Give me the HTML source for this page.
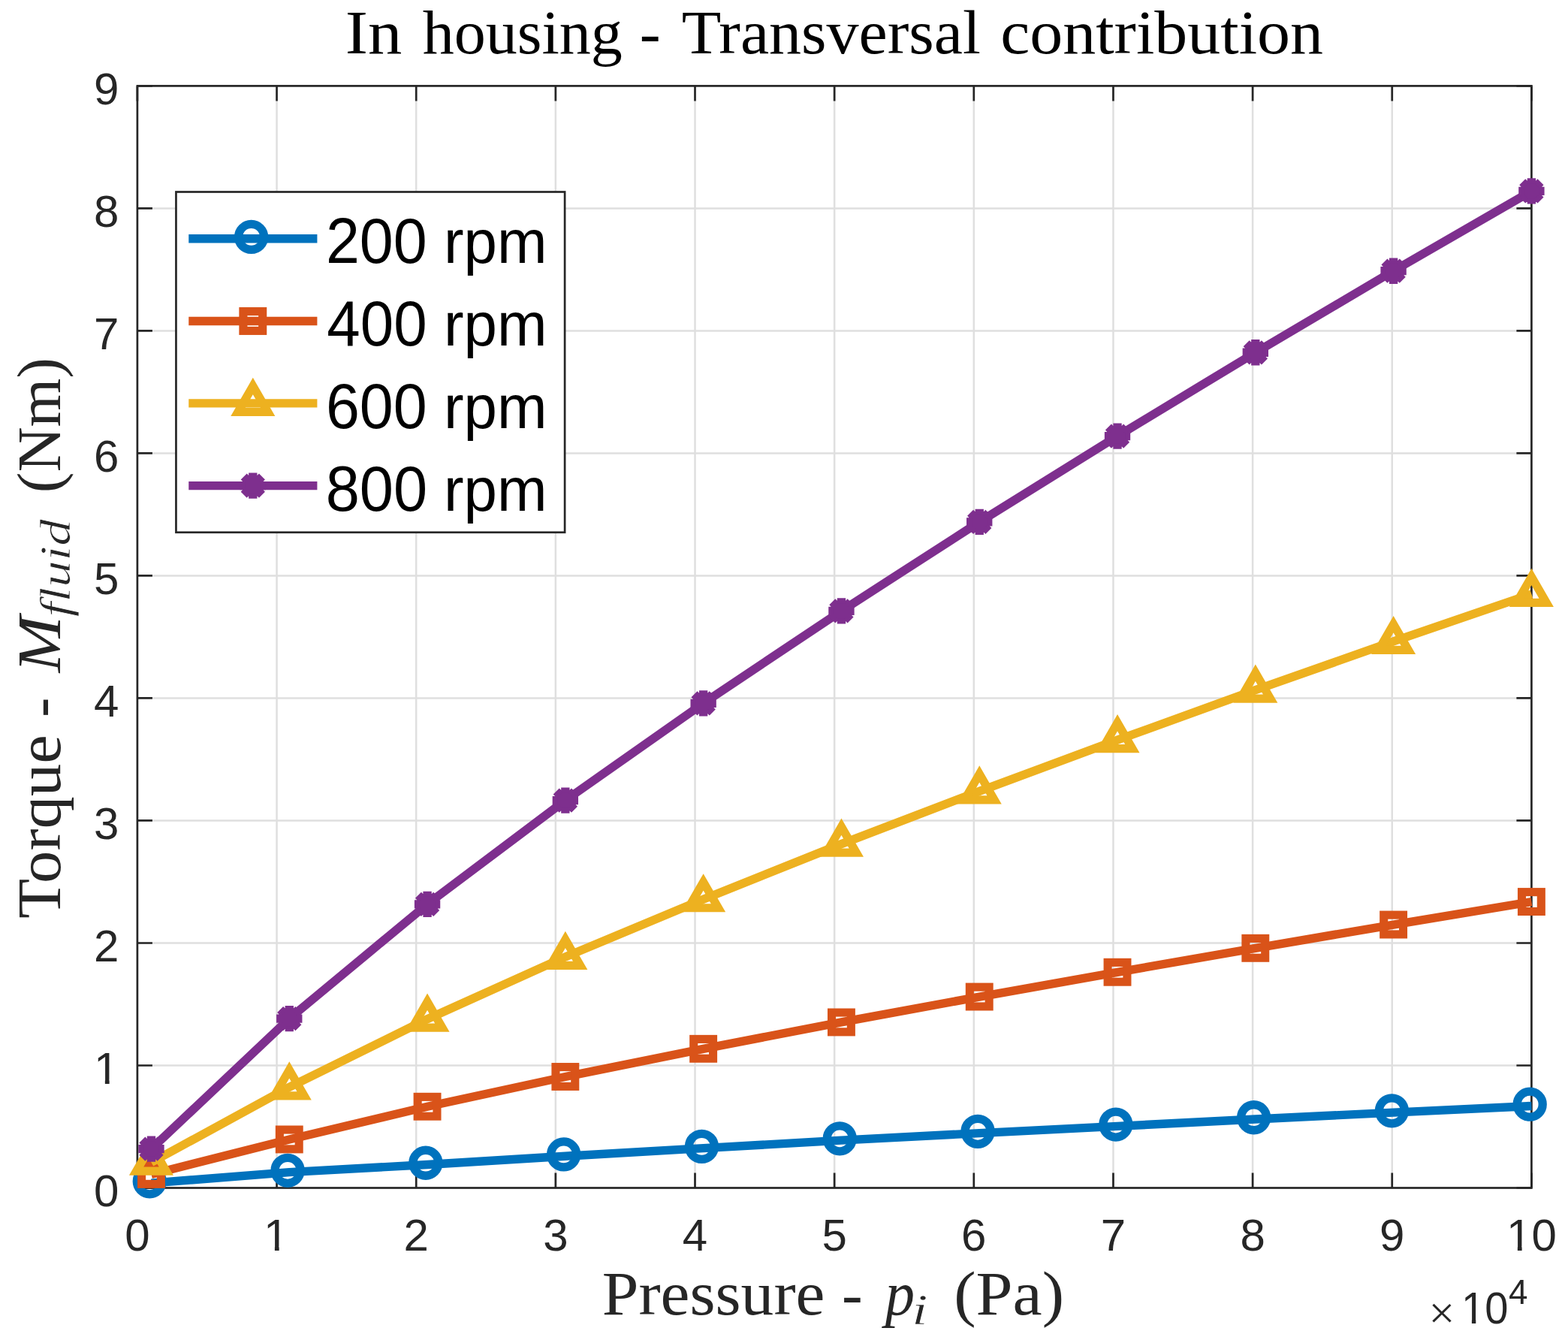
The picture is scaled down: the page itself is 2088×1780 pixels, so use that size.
<!DOCTYPE html>
<html><head><meta charset="utf-8"><title>In housing - Transversal contribution</title>
<style>html,body{margin:0;padding:0;background:#fff}svg{display:block}</style>
</head><body>
<svg width="2088" height="1780" viewBox="0 0 2088 1780">
<rect width="2088" height="1780" fill="#ffffff"/>
<path d="M368.55 114.4V1581.5M554.2 114.4V1581.5M739.85 114.4V1581.5M925.5 114.4V1581.5M1111.15 114.4V1581.5M1296.8 114.4V1581.5M1482.45 114.4V1581.5M1668.1 114.4V1581.5M1853.75 114.4V1581.5M182.9 1418.49H2039.4M182.9 1255.48H2039.4M182.9 1092.47H2039.4M182.9 929.46H2039.4M182.9 766.44H2039.4M182.9 603.43H2039.4M182.9 440.42H2039.4M182.9 277.41H2039.4" stroke="#dfdfdf" stroke-width="2.5" fill="none"/>
<path d="M182.9 1581.5V1561.5M182.9 114.4V134.4M368.55 1581.5V1561.5M368.55 114.4V134.4M554.2 1581.5V1561.5M554.2 114.4V134.4M739.85 1581.5V1561.5M739.85 114.4V134.4M925.5 1581.5V1561.5M925.5 114.4V134.4M1111.15 1581.5V1561.5M1111.15 114.4V134.4M1296.8 1581.5V1561.5M1296.8 114.4V134.4M1482.45 1581.5V1561.5M1482.45 114.4V134.4M1668.1 1581.5V1561.5M1668.1 114.4V134.4M1853.75 1581.5V1561.5M1853.75 114.4V134.4M2039.4 1581.5V1561.5M2039.4 114.4V134.4M182.9 1581.5H202.9M2039.4 1581.5H2019.4M182.9 1418.49H202.9M2039.4 1418.49H2019.4M182.9 1255.48H202.9M2039.4 1255.48H2019.4M182.9 1092.47H202.9M2039.4 1092.47H2019.4M182.9 929.46H202.9M2039.4 929.46H2019.4M182.9 766.44H202.9M2039.4 766.44H2019.4M182.9 603.43H202.9M2039.4 603.43H2019.4M182.9 440.42H202.9M2039.4 440.42H2019.4M182.9 277.41H202.9M2039.4 277.41H2019.4M182.9 114.4H202.9M2039.4 114.4H2019.4" stroke="#262626" stroke-width="2.7" fill="none"/>
<rect x="182.9" y="114.4" width="1856.5" height="1467.1" fill="none" stroke="#262626" stroke-width="2.7" stroke-linejoin="miter"/>
<g font-family="Liberation Sans, Arial, sans-serif" font-size="60" fill="#262626">
<text x="182.9" y="1664.5" text-anchor="middle">0</text>
<text x="367.75" y="1664.5" text-anchor="middle" clip-path="url(#c1x)">1</text>
<text x="554.2" y="1664.5" text-anchor="middle">2</text>
<text x="739.85" y="1664.5" text-anchor="middle">3</text>
<text x="925.5" y="1664.5" text-anchor="middle">4</text>
<text x="1111.15" y="1664.5" text-anchor="middle">5</text>
<text x="1296.8" y="1664.5" text-anchor="middle">6</text>
<text x="1482.45" y="1664.5" text-anchor="middle">7</text>
<text x="1668.1" y="1664.5" text-anchor="middle">8</text>
<text x="1853.75" y="1664.5" text-anchor="middle">9</text>
<text x="2039.4" y="1664.5" text-anchor="middle" clip-path="url(#c10x)">10</text>
<text x="158.4" y="1605.8" text-anchor="end">0</text>
<text x="158.4" y="1442.79" text-anchor="end" clip-path="url(#c1y)">1</text>
<text x="158.4" y="1279.78" text-anchor="end">2</text>
<text x="158.4" y="1116.77" text-anchor="end">3</text>
<text x="158.4" y="953.76" text-anchor="end">4</text>
<text x="158.4" y="790.74" text-anchor="end">5</text>
<text x="158.4" y="627.73" text-anchor="end">6</text>
<text x="158.4" y="464.72" text-anchor="end">7</text>
<text x="158.4" y="301.71" text-anchor="end">8</text>
<text x="158.4" y="138.7" text-anchor="end">9</text>
</g>
<text x="1902.19" y="1767.5" font-family="Liberation Sans, Arial, sans-serif" font-size="59" font-style="normal" fill="#262626" textLength="35.4" lengthAdjust="spacingAndGlyphs" style="font-variant-ligatures:none" stroke="#ffffff" stroke-width="1.2">&#215;</text>
<text x="1946.05" y="1762" font-family="Liberation Sans, Arial, sans-serif" font-size="59" font-style="normal" fill="#262626" textLength="62.36" lengthAdjust="spacingAndGlyphs" style="font-variant-ligatures:none" clip-path="url(#c10m)">10</text>
<text x="2009" y="1736.1" font-family="Liberation Sans, Arial, sans-serif" font-size="46" font-style="normal" fill="#262626" textLength="25.48" lengthAdjust="spacingAndGlyphs" style="font-variant-ligatures:none">4</text>
<polyline points="201.47,1575.14 385.26,1560.63 569.05,1550.53 752.85,1539.2 936.64,1528.68 1120.43,1518.09 1304.23,1508.63 1488.02,1499.34 1671.81,1490.05 1855.61,1481.09 2039.4,1472.45" fill="none" stroke="#0072BD" stroke-width="11.4" stroke-linejoin="round" stroke-linecap="butt"/>
<circle cx="199.27" cy="1572.84" r="17" fill="none" stroke="#0072BD" stroke-width="11.3"/>
<circle cx="383.06" cy="1558.33" r="17" fill="none" stroke="#0072BD" stroke-width="11.3"/>
<circle cx="566.85" cy="1548.23" r="17" fill="none" stroke="#0072BD" stroke-width="11.3"/>
<circle cx="750.65" cy="1536.9" r="17" fill="none" stroke="#0072BD" stroke-width="11.3"/>
<circle cx="934.44" cy="1526.38" r="17" fill="none" stroke="#0072BD" stroke-width="11.3"/>
<circle cx="1118.23" cy="1515.79" r="17" fill="none" stroke="#0072BD" stroke-width="11.3"/>
<circle cx="1302.03" cy="1506.33" r="17" fill="none" stroke="#0072BD" stroke-width="11.3"/>
<circle cx="1485.82" cy="1497.04" r="17" fill="none" stroke="#0072BD" stroke-width="11.3"/>
<circle cx="1669.61" cy="1487.75" r="17" fill="none" stroke="#0072BD" stroke-width="11.3"/>
<circle cx="1853.41" cy="1478.79" r="17" fill="none" stroke="#0072BD" stroke-width="11.3"/>
<circle cx="2037.2" cy="1470.15" r="17" fill="none" stroke="#0072BD" stroke-width="11.3"/>
<polyline points="201.47,1563.45 385.26,1516.95 569.05,1473.26 752.85,1433.49 936.64,1396.32 1120.43,1360.95 1304.23,1327.04 1488.02,1294.27 1671.81,1262.32 1855.61,1231.03 2039.4,1200.54" fill="none" stroke="#D95319" stroke-width="11.4" stroke-linejoin="round" stroke-linecap="butt"/>
<rect x="188.56" y="1550.55" width="25.8" height="25.8" fill="none" stroke="#D95319" stroke-width="11.1" stroke-linejoin="miter"/>
<rect x="372.36" y="1504.05" width="25.8" height="25.8" fill="none" stroke="#D95319" stroke-width="11.1" stroke-linejoin="miter"/>
<rect x="556.15" y="1460.36" width="25.8" height="25.8" fill="none" stroke="#D95319" stroke-width="11.1" stroke-linejoin="miter"/>
<rect x="739.95" y="1420.59" width="25.8" height="25.8" fill="none" stroke="#D95319" stroke-width="11.1" stroke-linejoin="miter"/>
<rect x="923.74" y="1383.42" width="25.8" height="25.8" fill="none" stroke="#D95319" stroke-width="11.1" stroke-linejoin="miter"/>
<rect x="1107.53" y="1348.05" width="25.8" height="25.8" fill="none" stroke="#D95319" stroke-width="11.1" stroke-linejoin="miter"/>
<rect x="1291.33" y="1314.14" width="25.8" height="25.8" fill="none" stroke="#D95319" stroke-width="11.1" stroke-linejoin="miter"/>
<rect x="1475.12" y="1281.37" width="25.8" height="25.8" fill="none" stroke="#D95319" stroke-width="11.1" stroke-linejoin="miter"/>
<rect x="1658.91" y="1249.42" width="25.8" height="25.8" fill="none" stroke="#D95319" stroke-width="11.1" stroke-linejoin="miter"/>
<rect x="1842.71" y="1218.13" width="25.8" height="25.8" fill="none" stroke="#D95319" stroke-width="11.1" stroke-linejoin="miter"/>
<rect x="2026.5" y="1187.64" width="25.8" height="25.8" fill="none" stroke="#D95319" stroke-width="11.1" stroke-linejoin="miter"/>
<polyline points="201.47,1547.59 385.26,1447.34 569.05,1356.71 752.85,1273.9 936.64,1197.28 1120.43,1123.6 1304.23,1053.34 1488.02,985.21 1671.81,918.7 1855.61,853.98 2039.4,790.9" fill="none" stroke="#EDB120" stroke-width="11.4" stroke-linejoin="round" stroke-linecap="butt"/>
<polygon points="201.47,1524.69 181.63,1559.04 221.3,1559.04" fill="none" stroke="#EDB120" stroke-width="11.2" stroke-linejoin="miter" stroke-miterlimit="10"/>
<polygon points="385.26,1424.44 365.43,1458.79 405.09,1458.79" fill="none" stroke="#EDB120" stroke-width="11.2" stroke-linejoin="miter" stroke-miterlimit="10"/>
<polygon points="569.05,1333.81 549.22,1368.16 588.88,1368.16" fill="none" stroke="#EDB120" stroke-width="11.2" stroke-linejoin="miter" stroke-miterlimit="10"/>
<polygon points="752.85,1251 733.01,1285.35 772.68,1285.35" fill="none" stroke="#EDB120" stroke-width="11.2" stroke-linejoin="miter" stroke-miterlimit="10"/>
<polygon points="936.64,1174.38 916.81,1208.73 956.47,1208.73" fill="none" stroke="#EDB120" stroke-width="11.2" stroke-linejoin="miter" stroke-miterlimit="10"/>
<polygon points="1120.43,1100.7 1100.6,1135.05 1140.26,1135.05" fill="none" stroke="#EDB120" stroke-width="11.2" stroke-linejoin="miter" stroke-miterlimit="10"/>
<polygon points="1304.23,1030.44 1284.39,1064.79 1324.06,1064.79" fill="none" stroke="#EDB120" stroke-width="11.2" stroke-linejoin="miter" stroke-miterlimit="10"/>
<polygon points="1488.02,962.31 1468.19,996.66 1507.85,996.66" fill="none" stroke="#EDB120" stroke-width="11.2" stroke-linejoin="miter" stroke-miterlimit="10"/>
<polygon points="1671.81,895.8 1651.98,930.15 1691.64,930.15" fill="none" stroke="#EDB120" stroke-width="11.2" stroke-linejoin="miter" stroke-miterlimit="10"/>
<polygon points="1855.61,831.08 1835.77,865.43 1875.44,865.43" fill="none" stroke="#EDB120" stroke-width="11.2" stroke-linejoin="miter" stroke-miterlimit="10"/>
<polygon points="2039.4,768 2019.57,802.35 2059.23,802.35" fill="none" stroke="#EDB120" stroke-width="11.2" stroke-linejoin="miter" stroke-miterlimit="10"/>
<polyline points="201.47,1529.66 385.26,1356.06 569.05,1203.8 752.85,1065.57 936.64,936.3 1120.43,813.39 1304.23,694.88 1488.02,580.61 1671.81,469.28 1855.61,360.71 2039.4,254.43" fill="none" stroke="#7E2F8E" stroke-width="11.4" stroke-linejoin="round" stroke-linecap="butt"/>
<polygon points="215.14,1524 207.13,1515.99 195.8,1515.99 187.79,1524 187.79,1535.33 195.8,1543.34 207.13,1543.34 215.14,1535.33" fill="#7E2F8E"/><path d="M215.14 1524L207.13 1515.99M207.13 1515.99L195.8 1515.99M195.8 1515.99L187.79 1524M187.79 1524L187.79 1535.33M187.79 1535.33L195.8 1543.34M195.8 1543.34L207.13 1543.34M207.13 1543.34L215.14 1535.33M215.14 1535.33L215.14 1524" fill="none" stroke="#7E2F8E" stroke-width="7.0" stroke-linecap="butt"/>
<polygon points="398.93,1350.39 390.92,1342.38 379.59,1342.38 371.59,1350.39 371.59,1361.72 379.59,1369.73 390.92,1369.73 398.93,1361.72" fill="#7E2F8E"/><path d="M398.93 1350.39L390.92 1342.38M390.92 1342.38L379.59 1342.38M379.59 1342.38L371.59 1350.39M371.59 1350.39L371.59 1361.72M371.59 1361.72L379.59 1369.73M379.59 1369.73L390.92 1369.73M390.92 1369.73L398.93 1361.72M398.93 1361.72L398.93 1350.39" fill="none" stroke="#7E2F8E" stroke-width="7.0" stroke-linecap="butt"/>
<polygon points="582.73,1198.14 574.72,1190.13 563.39,1190.13 555.38,1198.14 555.38,1209.47 563.39,1217.48 574.72,1217.48 582.73,1209.47" fill="#7E2F8E"/><path d="M582.73 1198.14L574.72 1190.13M574.72 1190.13L563.39 1190.13M563.39 1190.13L555.38 1198.14M555.38 1198.14L555.38 1209.47M555.38 1209.47L563.39 1217.48M563.39 1217.48L574.72 1217.48M574.72 1217.48L582.73 1209.47M582.73 1209.47L582.73 1198.14" fill="none" stroke="#7E2F8E" stroke-width="7.0" stroke-linecap="butt"/>
<polygon points="766.52,1059.91 758.51,1051.9 747.18,1051.9 739.17,1059.91 739.17,1071.23 747.18,1079.24 758.51,1079.24 766.52,1071.23" fill="#7E2F8E"/><path d="M766.52 1059.91L758.51 1051.9M758.51 1051.9L747.18 1051.9M747.18 1051.9L739.17 1059.91M739.17 1059.91L739.17 1071.23M739.17 1071.23L747.18 1079.24M747.18 1079.24L758.51 1079.24M758.51 1079.24L766.52 1071.23M766.52 1071.23L766.52 1059.91" fill="none" stroke="#7E2F8E" stroke-width="7.0" stroke-linecap="butt"/>
<polygon points="950.31,930.64 942.3,922.63 930.98,922.63 922.97,930.64 922.97,941.97 930.98,949.98 942.3,949.98 950.31,941.97" fill="#7E2F8E"/><path d="M950.31 930.64L942.3 922.63M942.3 922.63L930.98 922.63M930.98 922.63L922.97 930.64M922.97 930.64L922.97 941.97M922.97 941.97L930.98 949.98M930.98 949.98L942.3 949.98M942.3 949.98L950.31 941.97M950.31 941.97L950.31 930.64" fill="none" stroke="#7E2F8E" stroke-width="7.0" stroke-linecap="butt"/>
<polygon points="1134.11,807.73 1126.1,799.72 1114.77,799.72 1106.76,807.73 1106.76,819.06 1114.77,827.07 1126.1,827.07 1134.11,819.06" fill="#7E2F8E"/><path d="M1134.11 807.73L1126.1 799.72M1126.1 799.72L1114.77 799.72M1114.77 799.72L1106.76 807.73M1106.76 807.73L1106.76 819.06M1106.76 819.06L1114.77 827.07M1114.77 827.07L1126.1 827.07M1126.1 827.07L1134.11 819.06M1134.11 819.06L1134.11 807.73" fill="none" stroke="#7E2F8E" stroke-width="7.0" stroke-linecap="butt"/>
<polygon points="1317.9,689.22 1309.89,681.21 1298.56,681.21 1290.55,689.22 1290.55,700.55 1298.56,708.56 1309.89,708.56 1317.9,700.55" fill="#7E2F8E"/><path d="M1317.9 689.22L1309.89 681.21M1309.89 681.21L1298.56 681.21M1298.56 681.21L1290.55 689.22M1290.55 689.22L1290.55 700.55M1290.55 700.55L1298.56 708.56M1298.56 708.56L1309.89 708.56M1309.89 708.56L1317.9 700.55M1317.9 700.55L1317.9 689.22" fill="none" stroke="#7E2F8E" stroke-width="7.0" stroke-linecap="butt"/>
<polygon points="1501.69,574.95 1493.68,566.94 1482.36,566.94 1474.35,574.95 1474.35,586.28 1482.36,594.29 1493.68,594.29 1501.69,586.28" fill="#7E2F8E"/><path d="M1501.69 574.95L1493.68 566.94M1493.68 566.94L1482.36 566.94M1482.36 566.94L1474.35 574.95M1474.35 574.95L1474.35 586.28M1474.35 586.28L1482.36 594.29M1482.36 594.29L1493.68 594.29M1493.68 594.29L1501.69 586.28M1501.69 586.28L1501.69 574.95" fill="none" stroke="#7E2F8E" stroke-width="7.0" stroke-linecap="butt"/>
<polygon points="1685.49,463.61 1677.48,455.6 1666.15,455.6 1658.14,463.61 1658.14,474.94 1666.15,482.95 1677.48,482.95 1685.49,474.94" fill="#7E2F8E"/><path d="M1685.49 463.61L1677.48 455.6M1677.48 455.6L1666.15 455.6M1666.15 455.6L1658.14 463.61M1658.14 463.61L1658.14 474.94M1658.14 474.94L1666.15 482.95M1666.15 482.95L1677.48 482.95M1677.48 482.95L1685.49 474.94M1685.49 474.94L1685.49 463.61" fill="none" stroke="#7E2F8E" stroke-width="7.0" stroke-linecap="butt"/>
<polygon points="1869.28,355.05 1861.27,347.04 1849.94,347.04 1841.93,355.05 1841.93,366.37 1849.94,374.38 1861.27,374.38 1869.28,366.37" fill="#7E2F8E"/><path d="M1869.28 355.05L1861.27 347.04M1861.27 347.04L1849.94 347.04M1849.94 347.04L1841.93 355.05M1841.93 355.05L1841.93 366.37M1841.93 366.37L1849.94 374.38M1849.94 374.38L1861.27 374.38M1861.27 374.38L1869.28 366.37M1869.28 366.37L1869.28 355.05" fill="none" stroke="#7E2F8E" stroke-width="7.0" stroke-linecap="butt"/>
<polygon points="2053.07,248.76 2045.06,240.75 2033.74,240.75 2025.73,248.76 2025.73,260.09 2033.74,268.1 2045.06,268.1 2053.07,260.09" fill="#7E2F8E"/><path d="M2053.07 248.76L2045.06 240.75M2045.06 240.75L2033.74 240.75M2033.74 240.75L2025.73 248.76M2025.73 248.76L2025.73 260.09M2025.73 260.09L2033.74 268.1M2033.74 268.1L2045.06 268.1M2045.06 268.1L2053.07 260.09M2053.07 260.09L2053.07 248.76" fill="none" stroke="#7E2F8E" stroke-width="7.0" stroke-linecap="butt"/>
<rect x="234.45" y="255.5" width="517.65" height="453.25" fill="#ffffff" stroke="#262626" stroke-width="2.7"/>
<line x1="251.25" y1="317.7" x2="422.4" y2="317.7" stroke="#0072BD" stroke-width="11.4"/>
<circle cx="334.6" cy="315.4" r="17" fill="none" stroke="#0072BD" stroke-width="11.3"/>
<text x="433.9" y="350.3" font-family="Liberation Sans, Arial, sans-serif" font-size="85" font-style="normal" fill="#000000" textLength="134.74" lengthAdjust="spacingAndGlyphs" style="font-variant-ligatures:none">200</text>
<text x="590.93" y="350.3" font-family="Liberation Sans, Arial, sans-serif" font-size="82" font-style="normal" fill="#000000" textLength="137.45" lengthAdjust="spacingAndGlyphs" style="font-variant-ligatures:none">rpm</text>
<line x1="251.25" y1="427.5" x2="422.4" y2="427.5" stroke="#D95319" stroke-width="11.4"/>
<rect x="323.9" y="414.6" width="25.8" height="25.8" fill="none" stroke="#D95319" stroke-width="11.1" stroke-linejoin="miter"/>
<text x="435.32" y="460.3" font-family="Liberation Sans, Arial, sans-serif" font-size="85" font-style="normal" fill="#000000" textLength="133.28" lengthAdjust="spacingAndGlyphs" style="font-variant-ligatures:none">400</text>
<text x="590.93" y="460.3" font-family="Liberation Sans, Arial, sans-serif" font-size="82" font-style="normal" fill="#000000" textLength="137.45" lengthAdjust="spacingAndGlyphs" style="font-variant-ligatures:none">rpm</text>
<line x1="251.25" y1="536.9" x2="422.4" y2="536.9" stroke="#EDB120" stroke-width="11.4"/>
<polygon points="336.8,514 316.97,548.35 356.63,548.35" fill="none" stroke="#EDB120" stroke-width="11.2" stroke-linejoin="miter" stroke-miterlimit="10"/>
<text x="433.9" y="570" font-family="Liberation Sans, Arial, sans-serif" font-size="85" font-style="normal" fill="#000000" textLength="134.74" lengthAdjust="spacingAndGlyphs" style="font-variant-ligatures:none">600</text>
<text x="590.93" y="570" font-family="Liberation Sans, Arial, sans-serif" font-size="82" font-style="normal" fill="#000000" textLength="137.45" lengthAdjust="spacingAndGlyphs" style="font-variant-ligatures:none">rpm</text>
<line x1="251.25" y1="646.6" x2="422.4" y2="646.6" stroke="#7E2F8E" stroke-width="11.4"/>
<polygon points="350.47,640.94 342.46,632.93 331.14,632.93 323.13,640.94 323.13,652.26 331.14,660.27 342.46,660.27 350.47,652.26" fill="#7E2F8E"/><path d="M350.47 640.94L342.46 632.93M342.46 632.93L331.14 632.93M331.14 632.93L323.13 640.94M323.13 640.94L323.13 652.26M323.13 652.26L331.14 660.27M331.14 660.27L342.46 660.27M342.46 660.27L350.47 652.26M350.47 652.26L350.47 640.94" fill="none" stroke="#7E2F8E" stroke-width="7.0" stroke-linecap="butt"/>
<text x="433.68" y="680" font-family="Liberation Sans, Arial, sans-serif" font-size="85" font-style="normal" fill="#000000" textLength="135.48" lengthAdjust="spacingAndGlyphs" style="font-variant-ligatures:none">800</text>
<text x="590.93" y="680" font-family="Liberation Sans, Arial, sans-serif" font-size="82" font-style="normal" fill="#000000" textLength="137.45" lengthAdjust="spacingAndGlyphs" style="font-variant-ligatures:none">rpm</text>
<text x="459.72" y="70.9" font-family="Liberation Serif, serif" font-size="83" font-style="normal" fill="#000000" textLength="75.52" lengthAdjust="spacingAndGlyphs" style="font-variant-ligatures:none">In</text>
<text x="562.69" y="70.9" font-family="Liberation Serif, serif" font-size="83" font-style="normal" fill="#000000" textLength="266.11" lengthAdjust="spacingAndGlyphs" style="font-variant-ligatures:none">housing</text>
<text x="851.87" y="70.9" font-family="Liberation Serif, serif" font-size="83" font-style="normal" fill="#000000" textLength="27.89" lengthAdjust="spacingAndGlyphs" style="font-variant-ligatures:none">-</text>
<text x="907.83" y="70.9" font-family="Liberation Serif, serif" font-size="83" font-style="normal" fill="#000000" textLength="397.97" lengthAdjust="spacingAndGlyphs" style="font-variant-ligatures:none">Transversal</text>
<text x="1332.22" y="70.9" font-family="Liberation Serif, serif" font-size="83" font-style="normal" fill="#000000" textLength="429.82" lengthAdjust="spacingAndGlyphs" style="font-variant-ligatures:none">contribution</text>
<text x="801.79" y="1750.2" font-family="Liberation Serif, serif" font-size="83" font-style="normal" fill="#262626" textLength="296.62" lengthAdjust="spacingAndGlyphs" style="font-variant-ligatures:none">Pressure</text>
<text x="1120.9" y="1750.2" font-family="Liberation Serif, serif" font-size="83" font-style="normal" fill="#262626" textLength="27.64" lengthAdjust="spacingAndGlyphs" style="font-variant-ligatures:none">-</text>
<text x="1178.84" y="1750.2" font-family="Liberation Serif, serif" font-size="83" font-style="italic" fill="#262626" textLength="39.33" lengthAdjust="spacingAndGlyphs" style="font-variant-ligatures:none">p</text>
<text x="1214.09" y="1762.6" font-family="Liberation Serif, serif" font-size="58" font-style="italic" fill="#262626" textLength="21.55" lengthAdjust="spacingAndGlyphs" style="font-variant-ligatures:none" stroke="#ffffff" stroke-width="0.7">i</text>
<text x="1270.26" y="1750.2" font-family="Liberation Serif, serif" font-size="83" font-style="normal" fill="#262626" textLength="146.73" lengthAdjust="spacingAndGlyphs" style="font-variant-ligatures:none">(Pa)</text>
<g transform="translate(80.2 0) rotate(-90)">
<text x="-1222.89" y="0" font-family="Liberation Serif, serif" font-size="83" font-style="normal" fill="#262626" textLength="244.61" lengthAdjust="spacingAndGlyphs" style="font-variant-ligatures:none">Torque</text>
<text x="-954.82" y="0" font-family="Liberation Serif, serif" font-size="83" font-style="normal" fill="#262626" textLength="26.01" lengthAdjust="spacingAndGlyphs" style="font-variant-ligatures:none">-</text>
<text x="-895.41" y="0" font-family="Liberation Serif, serif" font-size="83" font-style="italic" fill="#262626" textLength="75.49" lengthAdjust="spacingAndGlyphs" style="font-variant-ligatures:none">M</text>
<text x="-821.22" y="12.3" font-family="Liberation Serif, serif" font-size="58" font-style="italic" fill="#262626" textLength="129.84" lengthAdjust="spacingAndGlyphs" style="font-variant-ligatures:none" stroke="#ffffff" stroke-width="0.7">fluid</text>
<text x="-656.31" y="0" font-family="Liberation Serif, serif" font-size="83" font-style="normal" fill="#262626" textLength="180.41" lengthAdjust="spacingAndGlyphs" style="font-variant-ligatures:none">(Nm)</text>
</g>
<defs><clipPath id="c1x" clipPathUnits="userSpaceOnUse"><path clip-rule="evenodd" d="M0 0H2088V1780H0ZM354.07 1659.2H365.87V1666H354.07ZM371.67 1659.2H383.57V1666H371.67Z"/></clipPath><clipPath id="c10x" clipPathUnits="userSpaceOnUse"><path clip-rule="evenodd" d="M0 0H2088V1780H0ZM2009.04 1659.2H2020.84V1666H2009.04ZM2026.64 1659.2H2038.54V1666H2026.64Z"/></clipPath><clipPath id="c1y" clipPathUnits="userSpaceOnUse"><path clip-rule="evenodd" d="M0 0H2088V1780H0ZM128.04 1437.49H139.84V1444.29H128.04ZM145.64 1437.49H157.54V1444.29H145.64Z"/></clipPath><clipPath id="c10m" clipPathUnits="userSpaceOnUse"><path clip-rule="evenodd" d="M0 0H2088V1780H0ZM1948.85 1756.7H1959.88V1763.5H1948.85ZM1965.29 1756.7H1976.41V1763.5H1965.29Z"/></clipPath></defs>
</svg>
</body></html>
